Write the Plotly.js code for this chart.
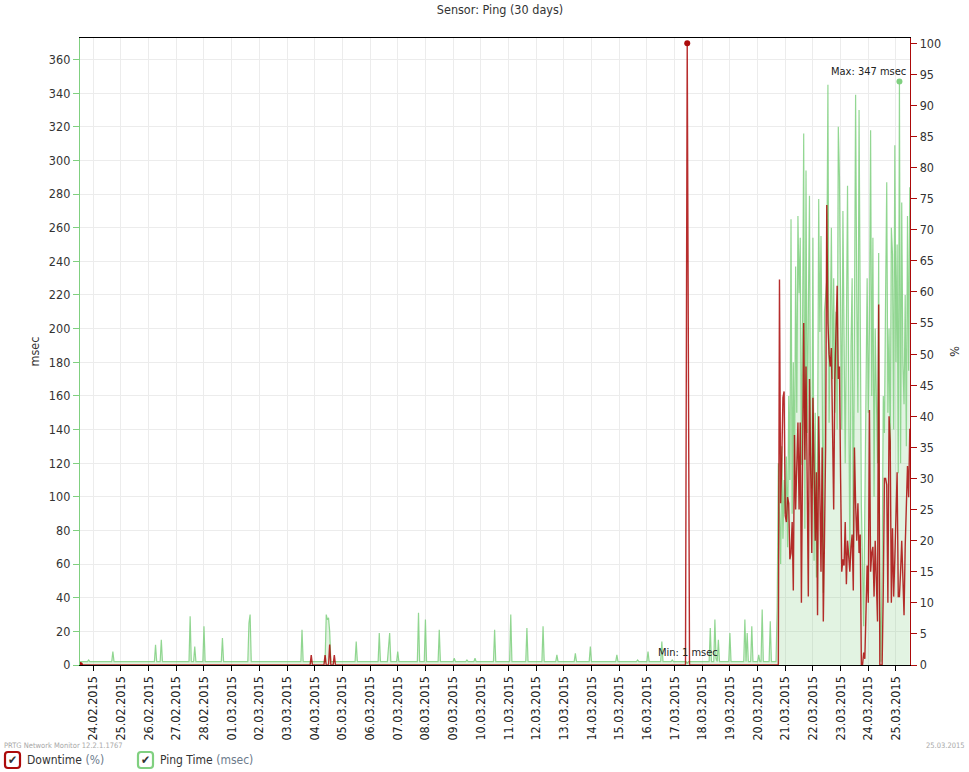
<!DOCTYPE html>
<html>
<head>
<meta charset="utf-8">
<script src="https://cdn.plot.ly/plotly-3.0.1.min.js"></script>
<style>html,body{margin:0;padding:0;background:#fff;}#chart{width:969px;height:772px;}</style>
</head>
<body>
<div id="chart"></div>
<script>
// ---- Data ----
// Ping time (msec), quiet period: explicit time stamps and values
const pingQuietTimes = [
 '2015-02-23 12:30','2015-02-23 19:00','2015-02-23 20:00','2015-02-23 21:00',
 '2015-02-24 16:00','2015-02-24 17:00','2015-02-24 18:00',
 '2015-02-26 05:00','2015-02-26 06:00','2015-02-26 07:00',
 '2015-02-26 10:00','2015-02-26 11:00','2015-02-26 12:00',
 '2015-02-27 11:00','2015-02-27 12:00','2015-02-27 13:00',
 '2015-02-27 15:00','2015-02-27 16:00','2015-02-27 17:00',
 '2015-02-27 23:00','2015-02-28 00:00','2015-02-28 01:00',
 '2015-02-28 15:00','2015-02-28 16:00','2015-02-28 17:00',
 '2015-03-01 14:00','2015-03-01 15:00','2015-03-01 16:00','2015-03-01 17:00',
 '2015-03-03 12:00','2015-03-03 13:00','2015-03-03 14:00',
 '2015-03-04 09:00','2015-03-04 10:00','2015-03-04 11:00','2015-03-04 12:00','2015-03-04 13:00','2015-03-04 14:00',
 '2015-03-05 11:00','2015-03-05 12:00','2015-03-05 13:00',
 '2015-03-06 07:00','2015-03-06 08:00','2015-03-06 09:00',
 '2015-03-06 15:00','2015-03-06 16:00','2015-03-06 17:00','2015-03-06 18:00',
 '2015-03-06 23:00','2015-03-07 00:00','2015-03-07 01:00',
 '2015-03-07 17:00','2015-03-07 18:00','2015-03-07 19:00',
 '2015-03-07 23:00','2015-03-08 00:00','2015-03-08 01:00',
 '2015-03-08 11:00','2015-03-08 12:00','2015-03-08 13:00',
 '2015-03-09 00:00','2015-03-09 01:00','2015-03-09 02:00',
 '2015-03-09 11:00','2015-03-09 12:00','2015-03-09 13:00',
 '2015-03-09 18:00','2015-03-09 19:00','2015-03-09 20:00',
 '2015-03-10 11:00','2015-03-10 12:00','2015-03-10 13:00',
 '2015-03-11 01:00','2015-03-11 02:00','2015-03-11 03:00',
 '2015-03-11 15:00','2015-03-11 16:00','2015-03-11 17:00',
 '2015-03-12 05:00','2015-03-12 06:00','2015-03-12 07:00',
 '2015-03-12 17:00','2015-03-12 18:00','2015-03-12 19:00',
 '2015-03-13 09:00','2015-03-13 10:00','2015-03-13 11:00',
 '2015-03-13 22:00','2015-03-13 23:00','2015-03-14 00:00',
 '2015-03-14 21:00','2015-03-14 22:00','2015-03-14 23:00',
 '2015-03-15 15:00','2015-03-15 16:00','2015-03-15 17:00',
 '2015-03-16 00:00','2015-03-16 01:00','2015-03-16 02:00',
 '2015-03-16 12:00','2015-03-16 13:00','2015-03-16 14:00',
 '2015-03-16 21:00','2015-03-16 22:00','2015-03-16 23:00',
 '2015-03-17 10:00','2015-03-17 11:00','2015-03-17 12:00',
 '2015-03-18 06:00','2015-03-18 07:00','2015-03-18 08:00',
 '2015-03-18 10:00','2015-03-18 11:00','2015-03-18 12:00','2015-03-18 13:00','2015-03-18 14:00','2015-03-18 15:00',
 '2015-03-18 23:00','2015-03-19 00:00','2015-03-19 01:00',
 '2015-03-19 12:00','2015-03-19 13:00','2015-03-19 14:00','2015-03-19 15:00','2015-03-19 16:00',
 '2015-03-19 18:00','2015-03-19 19:00','2015-03-19 20:00',
 '2015-03-20 00:00','2015-03-20 01:00','2015-03-20 02:00',
 '2015-03-20 03:00','2015-03-20 04:00','2015-03-20 05:00',
 '2015-03-20 10:00','2015-03-20 11:00','2015-03-20 12:00',
 '2015-03-20 16:00'
];
const pingQuietValues = [
 2,2,3,2,
 2,8,2,
 2,12,2,
 2,15,2,
 2,29,2,
 2,11,2,
 2,23,2,
 2,16,2,
 2,25,30,2,
 2,21,2,
 2,30,27,28,20,2,
 2,14,2,
 2,19,2,
 2,12,19,2,
 2,8,2,
 2,31,2,
 2,27,2,
 2,21,2,
 2,4,2,
 2,3,2,
 2,4,2,
 2,21,2,
 2,30,2,
 2,22,2,
 2,23,2,
 2,6,2,
 2,7,2,
 2,11,2,
 2,6,2,
 2,3,2,
 2,8,2,
 2,14,2,
 2,3,2,
 2,1,2,
 2,22,2,
 2,27,4,2,15,2,
 2,19,2,
 2,27,2,19,2,
 2,23,2,
 2,6,2,
 2,33,2,
 2,26,2,
 2
];
// Hourly values from 20.03.2015 17:00 to 25.03.2015 12:00
const denseStart = '2015-03-20T17:00:00';
const pingDense = [
 34,120,85,60,130,75,110,90,124,70,160,110,265,90,180,110,237,150,267,221,
 254,119,200,316,81,294,138,200,279,125,105,254,62,150,52,125,277,198,255,180,
 43,210,221,229,345,144,198,260,170,230,150,210,140,320,290,230,140,270,190,120,
 200,285,170,63,190,230,70,200,339,220,150,330,180,95,60,23,95,180,230,150,
 200,318,160,254,100,200,160,120,245,40,2,60,160,138,220,287,150,200,128,260,
 244,140,309,180,250,114,347,120,275,180,155,220,130,267,175,284
];
const downDense = [
 0,0,62,26,33,43,44,24,23,27,26,17,18,23,12,37,25,33,39,25,
 39,10,30,55,33,48,30,11,46,30,18,43,28,20,31,8,40,25,15,35,
 7,20,35,74,55,50,48,51,40,25,46,53,61,46,48,30,15,17,16,23,
 13,20,17,15,19,21,12,35,26,20,26,18,21,0,0,2,1,8,16,10,
 41,15,18,19,11,20,15,7,58,0,0,0,12,30,30,29,10,40,36,10,
 22,11,17,25,31,11,11,15,20,14,8,19,25,32,27,38
];
// Downtime (%), quiet period
const downQuietTimes = [
 '2015-02-23 12:30','2015-03-03 20:00','2015-03-03 21:00','2015-03-03 22:00',
 '2015-03-04 08:00','2015-03-04 09:00','2015-03-04 10:00',
 '2015-03-04 12:00','2015-03-04 13:00','2015-03-04 14:00',
 '2015-03-04 16:00','2015-03-04 17:00','2015-03-04 18:00',
 '2015-03-17 09:30','2015-03-17 11:00','2015-03-17 13:00',
 '2015-03-20 16:00'
];
const downQuietValues = [0,0,1.6,0, 0,1.6,0, 0,3.3,0, 0,1.6,0, 0,100,0, 0];

const pingMax = {t:'2015-03-25 03:00', v:347};
const pingMin = {t:'2015-03-17 11:00', v:1};
const downMax = {t:'2015-03-17 11:00', v:100};
const downMin = {t:'2015-02-23 12:30', v:0};

// ---- build series ----
function hourTimes(start, n){
  const base = new Date(start + 'Z').getTime();
  const out = [];
  for(let k=0;k<n;k++){ out.push(new Date(base + k*3600000).toISOString().replace('T',' ').slice(0,16)); }
  return out;
}
const pingX = pingQuietTimes.concat(hourTimes(denseStart, pingDense.length));
const pingY = pingQuietValues.concat(pingDense);
const downX = downQuietTimes.concat(hourTimes(denseStart, downDense.length));
const downY = downQuietValues.concat(downDense);

const GREEN = 'rgb(128,208,128)';
const RED = 'rgb(172,10,10)';
const FONT = "'DejaVu Sans Condensed', 'DejaVu Sans', sans-serif";

const traces = [
  {x:pingX, y:pingY, type:'scatter', mode:'lines', yaxis:'y', fill:'tozeroy',
   fillcolor:'rgba(135,205,135,0.24)', line:{color:'rgba(120,205,120,0.8)', width:1.2}, hoverinfo:'skip'},
  {x:downX, y:downY, type:'scatter', mode:'lines', yaxis:'y2',
   line:{color:'rgba(170,8,8,0.85)', width:1.4}, hoverinfo:'skip'},
  {x:[pingMax.t], y:[pingMax.v], type:'scatter', mode:'markers', yaxis:'y',
   marker:{color:GREEN, size:6}, hoverinfo:'skip'},
  {x:[downMax.t, downMin.t], y:[downMax.v, downMin.v], type:'scatter', mode:'markers', yaxis:'y2',
   marker:{color:RED, size:6}, hoverinfo:'skip'}
];

const L = 80, R = 910, T = 38, B = 665;
const px = x => (x - L)/(R - L);
const py = y => (B - y)/(B - T);
function roundBox(x0, y0, x1, y1, r){
  return 'M' + px(x0 + r) + ',' + py(y0) +
    ' L' + px(x1 - r) + ',' + py(y0) + ' Q' + px(x1) + ',' + py(y0) + ' ' + px(x1) + ',' + py(y0 + r) +
    ' L' + px(x1) + ',' + py(y1 - r) + ' Q' + px(x1) + ',' + py(y1) + ' ' + px(x1 - r) + ',' + py(y1) +
    ' L' + px(x0 + r) + ',' + py(y1) + ' Q' + px(x0) + ',' + py(y1) + ' ' + px(x0) + ',' + py(y1 - r) +
    ' L' + px(x0) + ',' + py(y0 + r) + ' Q' + px(x0) + ',' + py(y0) + ' ' + px(x0 + r) + ',' + py(y0) + ' Z';
}

const layout = {
  width:969, height:772,
  margin:{l:L, r:969-R, t:T, b:772-B, pad:0},
  paper_bgcolor:'#fff', plot_bgcolor:'#fff',
  showlegend:false,
  font:{family:FONT, size:12, color:'#333'},
  title:{text:'Sensor: Ping (30 days)', x:0.516, xanchor:'center', y:0.988, yanchor:'middle',
         font:{family:FONT, size:12.5, color:'#333'}},
  xaxis:{type:'date', range:['2015-02-23 12:30','2015-03-25 12:10'],
    tick0:'2015-02-24', dtick:86400000, tickformat:'%d.%m.%Y', tickangle:-90,
    showgrid:true, gridcolor:'#ececec', gridwidth:1,
    showline:true, linecolor:'#000', linewidth:1.2, mirror:true,
    ticks:'outside', ticklen:5, tickcolor:'#000',
    tickfont:{family:FONT, size:12.5, color:'#222'}, zeroline:false},
  yaxis:{range:[0,372.8], dtick:20, tick0:0, showgrid:true, gridcolor:'#ececec',
    showline:true, linecolor:GREEN, linewidth:1.2, ticks:'outside', ticklen:6, tickcolor:GREEN,
    tickfont:{family:FONT, size:12.5, color:'#333'}, zeroline:false,
    title:{text:'msec', standoff:6, font:{family:FONT, size:12.5, color:'#333'}}},
  yaxis2:{range:[0,100.85], dtick:5, tick0:0, overlaying:'y', side:'right', showgrid:false,
    showline:true, linecolor:RED, linewidth:1.2, ticks:'outside', ticklen:6, tickcolor:RED,
    tickfont:{family:FONT, size:12.5, color:'#333'}, zeroline:false,
    title:{text:'%', standoff:10, font:{family:FONT, size:12.5, color:'#333'}}},
  shapes:[
    {type:'path', xref:'paper', yref:'paper', path:roundBox(5, 752, 20, 768, 3),
     line:{color:RED, width:2.2}, fillcolor:'#fff'},
    {type:'path', xref:'paper', yref:'paper', path:roundBox(138, 752, 153, 768, 3),
     line:{color:GREEN, width:2.2}, fillcolor:'#fff'}
  ],
  annotations:[
    {text:'Max: 347 msec', x:pingMax.t, y:pingMax.v, xref:'x', yref:'y', showarrow:false,
     xanchor:'right', yanchor:'middle', xshift:9, yshift:10, font:{family:FONT, size:11, color:'#222'}},
    {text:'Min: 1 msec', x:pingMin.t, y:pingMin.v, xref:'x', yref:'y', showarrow:false,
     xanchor:'center', yanchor:'middle', xshift:1, yshift:11, font:{family:FONT, size:11, color:'#222'}},
    {text:'PRTG Network Monitor 12.2.1.1767', xref:'paper', yref:'paper', x:px(2), y:py(745),
     xanchor:'left', yanchor:'middle', showarrow:false, font:{family:FONT, size:7.5, color:'#a8a8a8'}},
    {text:'25.03.2015', xref:'paper', yref:'paper', x:px(967), y:py(745),
     xanchor:'right', yanchor:'middle', showarrow:false, font:{family:FONT, size:7.5, color:'#a8a8a8'}},
    {text:'✔', xref:'paper', yref:'paper', x:px(12.5), y:py(760), xanchor:'center', yanchor:'middle',
     showarrow:false, font:{family:FONT, size:12, color:'#333'}},
    {text:'✔', xref:'paper', yref:'paper', x:px(145.5), y:py(760), xanchor:'center', yanchor:'middle',
     showarrow:false, font:{family:FONT, size:12, color:'#333'}},
    {text:"Downtime <span style='color:#6c7b8c'>(%)</span>", xref:'paper', yref:'paper', x:px(25), y:py(760),
     xanchor:'left', yanchor:'middle', showarrow:false, font:{family:FONT, size:12, color:'#333'}},
    {text:"Ping Time <span style='color:#6c7b8c'>(msec)</span>", xref:'paper', yref:'paper', x:px(158), y:py(760),
     xanchor:'left', yanchor:'middle', showarrow:false, font:{family:FONT, size:12, color:'#333'}}
  ]
};

Plotly.newPlot('chart', traces, layout, {staticPlot:true, displayModeBar:false});
</script>
</body>
</html>
